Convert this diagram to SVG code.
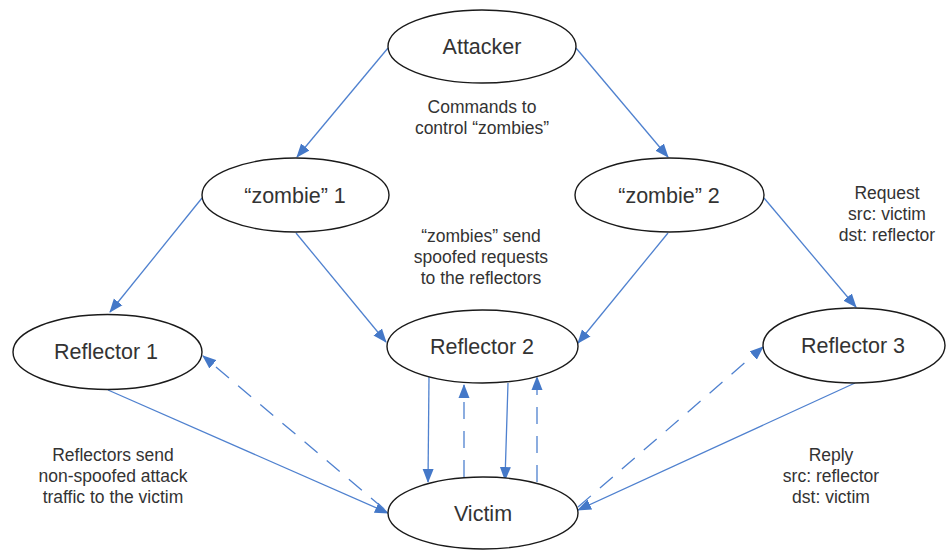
<svg xmlns="http://www.w3.org/2000/svg" width="947" height="550" viewBox="0 0 947 550">
  <style>
    .node ellipse { fill: #ffffff; stroke: #1a1a1a; stroke-width: 1.4; }
    .node text { font-family: "Liberation Sans", Arial, sans-serif; font-size: 21.5px; fill: #333333; text-anchor: middle; }
    .label { font-family: "Liberation Sans", Arial, sans-serif; font-size: 17.5px; fill: #333333; text-anchor: middle; }
    .edge { stroke: #4f81cf; stroke-width: 1.3; fill: none; marker-end: url(#arrow); }
    .dashed { stroke-dasharray: 17 12; }
  </style>
  <defs>
    <marker id="arrow" markerUnits="userSpaceOnUse" markerWidth="14" markerHeight="12" viewBox="0 0 14 12" refX="13" refY="6" orient="auto">
      <path d="M0,0.5 L14,6 L0,11.5 z" fill="#4478c8"/>
    </marker>
  </defs>

  <rect width="947" height="550" fill="#ffffff"/>

  <!-- connectors -->
  <g id="connectors">
    <line class="edge" x1="388" y1="48" x2="297" y2="157"/>
    <line class="edge" x1="576" y1="48" x2="668" y2="157"/>
    <line class="edge" x1="202" y1="198" x2="110" y2="312"/>
    <line class="edge" x1="296" y1="233" x2="386" y2="342"/>
    <line class="edge" x1="668" y1="233" x2="578" y2="343"/>
    <line class="edge" x1="764" y1="198" x2="856" y2="307"/>
    <line class="edge" x1="108" y1="390" x2="388" y2="513"/>
    <line class="edge dashed" x1="384" y1="509" x2="203" y2="356"/>
    <line class="edge" x1="429" y1="377" x2="428" y2="482"/>
    <line class="edge dashed" x1="464" y1="477" x2="464" y2="385"/>
    <line class="edge" x1="508" y1="383" x2="505" y2="480"/>
    <line class="edge dashed" x1="537" y1="482" x2="537" y2="377"/>
    <line class="edge" x1="855" y1="383" x2="578" y2="510"/>
    <line class="edge dashed" x1="578" y1="507" x2="763" y2="347"/>
  </g>

  <!-- nodes -->
  <g id="attacker" class="node">
    <ellipse cx="482" cy="46.5" rx="94" ry="36.5"/>
    <text x="482" y="54">Attacker</text>
  </g>
  <g id="zombie1" class="node">
    <ellipse cx="295.5" cy="195" rx="93.5" ry="37"/>
    <text x="295" y="203">“zombie” 1</text>
  </g>
  <g id="zombie2" class="node">
    <ellipse cx="669.5" cy="195" rx="94.5" ry="37"/>
    <text x="669" y="203">“zombie” 2</text>
  </g>
  <g id="reflector1" class="node">
    <ellipse cx="107.5" cy="352" rx="94.5" ry="37.5"/>
    <text x="106" y="359">Reflector 1</text>
  </g>
  <g id="reflector2" class="node">
    <ellipse cx="482.5" cy="346.5" rx="95.5" ry="36.5"/>
    <text x="482" y="354">Reflector 2</text>
  </g>
  <g id="reflector3" class="node">
    <ellipse cx="854" cy="345.5" rx="91" ry="37.5"/>
    <text x="853" y="353">Reflector 3</text>
  </g>
  <g id="victim" class="node">
    <ellipse cx="483" cy="513" rx="95" ry="36"/>
    <text x="483" y="521">Victim</text>
  </g>

  <!-- annotations -->
  <g id="labels">
    <text class="label" x="482" y="113">Commands to</text>
    <text class="label" x="482" y="134">control “zombies”</text>

    <text class="label" x="481" y="242">“zombies” send</text>
    <text class="label" x="481" y="263">spoofed requests</text>
    <text class="label" x="481" y="284">to the reflectors</text>

    <text class="label" x="887" y="199">Request</text>
    <text class="label" x="887" y="220">src: victim</text>
    <text class="label" x="887" y="241">dst: reflector</text>

    <text class="label" x="113" y="461">Reflectors send</text>
    <text class="label" x="113" y="482">non-spoofed attack</text>
    <text class="label" x="113" y="503">traffic to the victim</text>

    <text class="label" x="831" y="461">Reply</text>
    <text class="label" x="831" y="482">src: reflector</text>
    <text class="label" x="831" y="503">dst: victim</text>
  </g>
</svg>
